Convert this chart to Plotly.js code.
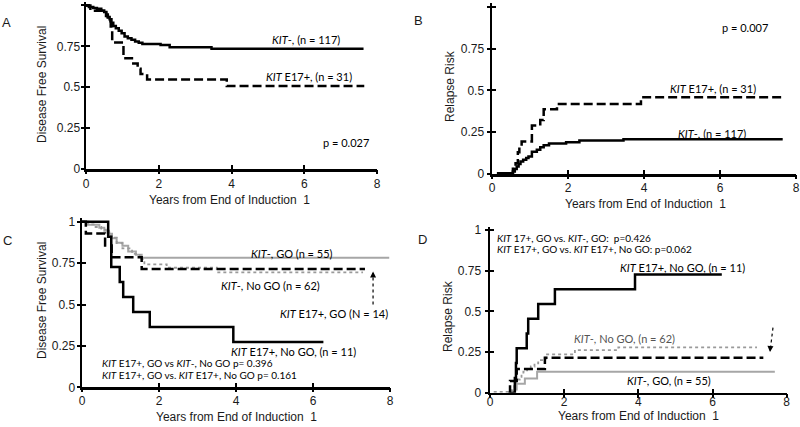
<!DOCTYPE html>
<html>
<head>
<meta charset="utf-8">
<script src="https://cdn.plot.ly/plotly-3.0.1.min.js"></script>
<style>html,body{margin:0;padding:0;background:#fff;}#chart{width:800px;height:427px;}</style>
</head>
<body>
<div id="chart"></div>
<script>
// ---------- Data ----------
const xTickVals = [0, 2, 4, 6, 8];
const xTickText = ['0', '2', '4', '6', '8'];
const yTickVals = [0, 0.25, 0.5, 0.75, 1];
const yTickText = ['0', '0.25', '0.5', '0.75', '1'];

// Panel A: disease free survival
const aNegT = [0, 0.08, 0.2, 0.3, 0.42, 0.5, 0.56, 0.6, 0.65, 0.7, 0.75, 0.82, 0.9, 0.98, 1.06, 1.15, 1.25, 1.35, 1.45, 1.55, 2.05, 2.3, 3.45, 7.63];
const aNegS = [1, 0.99, 0.985, 0.98, 0.97, 0.96, 0.945, 0.93, 0.915, 0.895, 0.875, 0.86, 0.845, 0.83, 0.81, 0.8, 0.79, 0.78, 0.772, 0.765, 0.758, 0.745, 0.735, 0.735];
const aPosT = [0, 0.12, 0.55, 0.6, 0.68, 0.72, 1.03, 1.3, 1.42, 1.5, 1.68, 3.87, 7.65];
const aPosS = [1, 0.968, 0.935, 0.903, 0.871, 0.774, 0.677, 0.645, 0.613, 0.581, 0.548, 0.508, 0.508];

// Panel B: relapse risk
const bNegT = [0.13, 0.55, 0.6, 0.65, 0.7, 0.75, 0.82, 0.9, 0.96, 1.05, 1.18, 1.27, 1.36, 1.5, 1.95, 2.3, 3.46, 7.65];
const bNegR = [0.005, 0.015, 0.03, 0.045, 0.06, 0.075, 0.085, 0.095, 0.105, 0.133, 0.145, 0.16, 0.172, 0.182, 0.19, 0.2, 0.207, 0.207];
const bPosT = [0.13, 0.55, 0.62, 0.68, 0.72, 0.78, 1.05, 1.27, 1.36, 1.71, 3.92, 7.65];
const bPosR = [0.005, 0.032, 0.065, 0.13, 0.16, 0.194, 0.29, 0.323, 0.387, 0.419, 0.458, 0.458];

// Panel C: disease free survival by GO
const cPosNoGoT = [0, 0.68, 0.76, 0.98, 1.07, 1.33, 1.76, 3.93, 6.27];
const cPosNoGoS = [1, 0.909, 0.727, 0.636, 0.545, 0.455, 0.364, 0.273, 0.273];
const cNegGoT = [0, 0.16, 0.45, 0.58, 0.7, 0.78, 0.9, 1.05, 1.2, 1.4, 1.55, 7.98];
const cNegGoS = [1, 0.982, 0.964, 0.945, 0.927, 0.9, 0.873, 0.855, 0.82, 0.8, 0.782, 0.782];
const cNegNoGoT = [0, 0.1, 0.3, 0.5, 0.62, 0.75, 0.9, 1.05, 1.3, 1.5, 1.62, 2.2, 3.5, 7.3];
const cNegNoGoS = [1, 0.984, 0.968, 0.952, 0.935, 0.903, 0.871, 0.839, 0.806, 0.774, 0.742, 0.722, 0.694, 0.694];
const cPosGoT = [0, 0.1, 0.6, 0.77, 1.55, 7.35];
const cPosGoS = [1, 0.929, 0.857, 0.786, 0.714, 0.714];

// Panel D: relapse risk by GO
const dPosNoGoT = [0.55, 0.67, 0.7, 0.72, 0.99, 1.03, 1.3, 1.75, 3.91, 6.25];
const dPosNoGoR = [0, 0.091, 0.182, 0.273, 0.364, 0.455, 0.545, 0.636, 0.727, 0.727];
const dPosGoT = [0.5, 0.54, 0.72, 1.48, 7.37];
const dPosGoR = [0, 0.072, 0.145, 0.215, 0.215];
const dNegGoT = [0.6, 0.65, 0.72, 0.94, 1.27, 7.68];
const dNegGoR = [0, 0.02, 0.055, 0.088, 0.128, 0.128];
const dNegNoGoT = [0.1, 0.55, 0.6, 0.65, 0.7, 0.75, 0.8, 0.85, 0.9, 1.0, 1.1, 1.2, 1.3, 1.5, 2.29, 3.46, 7.2];
const dNegNoGoR = [0.005, 0.016, 0.032, 0.048, 0.065, 0.081, 0.097, 0.113, 0.129, 0.145, 0.161, 0.18, 0.2, 0.236, 0.262, 0.279, 0.279];

// ---------- Styling ----------
const W = 800, H = 427;
const axFont = 'Arial, Liberation Sans, sans-serif';
const lblFont = 'Lato, Open Sans, sans-serif';
const grayC = '#a6a6a6';
const dotC = '#9a9a9a';

function px2x(a, b) { return [a / W, b / W]; }
function px2y(bottom, top) { return [1 - bottom / H, 1 - top / H]; }

function step(x, y, xa, ya, color, width, dash) {
  return { x: x, y: y, xaxis: xa, yaxis: ya, type: 'scatter', mode: 'lines',
    line: { shape: 'hv', color: color, width: width, dash: dash || 'solid' },
    hoverinfo: 'skip', showlegend: false };
}

const traces = [
  step(aNegT, aNegS, 'x', 'y', '#000', 2.5, 'solid'),
  step(aPosT, aPosS, 'x', 'y', '#000', 2.5, '9px,4px'),
  step(bNegT, bNegR, 'x2', 'y2', '#000', 2.5, 'solid'),
  step(bPosT, bPosR, 'x2', 'y2', '#000', 2.5, '9px,4px'),
  step(cNegGoT, cNegGoS, 'x3', 'y3', grayC, 2, 'solid'),
  step(cNegNoGoT, cNegNoGoS, 'x3', 'y3', dotC, 1.8, 'dot'),
  step(cPosGoT, cPosGoS, 'x3', 'y3', '#000', 2.5, '9px,4px'),
  step(cPosNoGoT, cPosNoGoS, 'x3', 'y3', '#000', 2.5, 'solid'),
  step(dNegGoT, dNegGoR, 'x4', 'y4', grayC, 2, 'solid'),
  step(dNegNoGoT, dNegNoGoR, 'x4', 'y4', dotC, 1.8, 'dot'),
  step(dPosGoT, dPosGoR, 'x4', 'y4', '#000', 2.5, '9px,4px'),
  step(dPosNoGoT, dPosNoGoR, 'x4', 'y4', '#000', 2.5, 'solid')
];
// empty traces hosting the overlay axes (outer half of each tick, and panel D's x tick labels)
for (let i = 5; i <= 8; i++) {
  traces.push({ x: [], y: [], xaxis: 'x' + i, yaxis: 'y' + i, type: 'scatter', mode: 'lines', showlegend: false, hoverinfo: 'skip' });
}
traces.push({ x: [], y: [], xaxis: 'x9', yaxis: 'y4', type: 'scatter', mode: 'lines', showlegend: false, hoverinfo: 'skip' });

const tickFont = { family: axFont, size: 12, color: '#1a1a1a' };
function xAx(dom, anchor, standoff, labels) {
  return { domain: dom, anchor: anchor, range: [0, 8], tickmode: 'array', tickvals: xTickVals, ticktext: xTickText,
    ticks: 'inside', ticklen: 4, tickwidth: 2, tickcolor: '#000', showline: true, linewidth: 2.5, linecolor: '#000',
    showgrid: false, zeroline: false, fixedrange: true, ticklabelstandoff: standoff, showticklabels: labels,
    tickfont: tickFont };
}
function yAx(dom, anchor, standoff) {
  return { domain: dom, anchor: anchor, range: [0, 1.02], tickmode: 'array', tickvals: yTickVals, ticktext: yTickText,
    ticks: 'inside', ticklen: 4, tickwidth: 2, tickcolor: '#000', showline: true, linewidth: 2.5, linecolor: '#000',
    showgrid: false, zeroline: false, fixedrange: true, ticklabelstandoff: standoff,
    tickfont: tickFont };
}
function xOv(over, anchor) {
  return { overlaying: over, anchor: anchor, range: [0, 8], tickmode: 'array', tickvals: xTickVals,
    ticks: 'outside', ticklen: 4, tickwidth: 2, tickcolor: '#000', showticklabels: false, showline: false,
    showgrid: false, zeroline: false, fixedrange: true };
}
function yOv(over, anchor) {
  return { overlaying: over, anchor: anchor, range: [0, 1.02], tickmode: 'array', tickvals: yTickVals,
    ticks: 'outside', ticklen: 4, tickwidth: 2, tickcolor: '#000', showticklabels: false, showline: false,
    showgrid: false, zeroline: false, fixedrange: true };
}

const domA = { x: px2x(86, 377), y: px2y(169, 2.2) };
const domB = { x: px2x(492, 796), y: px2y(174, 3.35) };
const domC = { x: px2x(82, 390), y: px2y(387.3, 218.4) };
const domD = { x: px2x(490, 786.7), y: px2y(392.7, 226.7) };

function lbl(text, x, y, xref, yref, size, color, anchor) {
  return { text: text, x: x, y: y, xref: xref, yref: yref, showarrow: false, xanchor: anchor || 'right', yanchor: 'middle',
    font: { family: lblFont, size: size, color: color || '#000' } };
}
function paperText(text, x, y, size, angle) {
  return { text: text, x: x / W, y: 1 - y / H, xref: 'paper', yref: 'paper', showarrow: false, xanchor: 'center', yanchor: 'middle',
    textangle: angle || 0, font: { family: axFont, size: size, color: '#1a1a1a' } };
}

const xTitle = 'Years from End of Induction &nbsp;1';
const annotations = [
  paperText('A', 6, 23, 13), paperText('B', 418, 20, 13), paperText('C', 7, 241, 13), paperText('D', 422, 240, 13),
  // axis titles
  paperText(xTitle, 229, 200, 12), paperText(xTitle, 645, 204, 12), paperText(xTitle, 236, 417, 12), paperText(xTitle, 638, 416, 12),
  paperText('Disease Free Survival', 42, 85, 12, -90), paperText('Relapse Risk', 450, 86, 12, -90),
  paperText('Disease Free Survival', 42, 301, 12, -90), paperText('Relapse Risk', 448, 316, 12, -90),
  // curve labels
  lbl('<i>KIT</i>-, (n = 117)', 7.05, 0.79, 'x', 'y', 11),
  lbl('<i>KIT</i> E17+, (n = 31)', 7.37, 0.563, 'x', 'y', 11),
  lbl('p = 0.027', 7.84, 0.16, 'x', 'y', 11),
  lbl('<i>KIT</i> E17+, (n = 31)', 7.0, 0.514, 'x2', 'y2', 11),
  lbl('<i>KIT</i>-, (n = 117)', 6.74, 0.245, 'x2', 'y2', 11),
  lbl('p = 0.007', 7.32, 0.873, 'x2', 'y2', 11),
  lbl('<i>KIT</i>-, GO (n = 55)', 6.57, 0.81, 'x3', 'y3', 11),
  lbl('<i>KIT</i>-, No GO (n = 62)', 6.23, 0.612, 'x3', 'y3', 11),
  lbl('<i>KIT</i> E17+, GO (N = 14)', 8.0, 0.443, 'x3', 'y3', 11),
  lbl('<i>KIT</i> E17+, No GO, (n = 11)', 7.17, 0.219, 'x3', 'y3', 11),
  lbl('<i>KIT</i> E17+, GO vs <i>KIT</i>-, No GO p= 0.396', 0.47, 0.147, 'x3', 'y3', 10, '#000', 'left'),
  lbl('<i>KIT</i> E17+, GO vs. <i>KIT</i> E17+, No GO p= 0.161', 0.47, 0.075, 'x3', 'y3', 10, '#000', 'left'),
  { x: 7.56, y: 0.7, xref: 'x3', yref: 'y3', ax: 0, ay: 7, showarrow: true, arrowhead: 2, arrowsize: 1, arrowwidth: 1.2, arrowcolor: '#000', text: '' },
  lbl('<i>KIT</i> E17+, No GO, (n = 11)', 6.93, 0.77, 'x4', 'y4', 11),
  lbl('<i>KIT</i> E17+, GO, (n = 14)', 8.01, 0.465, 'x4', 'y4', 11),
  lbl('<i>KIT</i>-, No GO, (n = 62)', 5.04, 0.336, 'x4', 'y4', 11, '#555'),
  lbl('<i>KIT</i>-, GO, (n = 55)', 6.01, 0.072, 'x4', 'y4', 11),
  lbl('<i>KIT</i> 17+, GO vs. <i>KIT</i>-, GO:  p=0.426', 0.13, 0.951, 'x4', 'y4', 10, '#000', 'left'),
  lbl('<i>KIT</i> E17+, GO vs. <i>KIT</i> E17+, No GO: p=0.062', 0.13, 0.885, 'x4', 'y4', 10, '#000', 'left'),
  { x: 7.55, y: 0.25, xref: 'x4', yref: 'y4', ax: 0.5, ay: -7, showarrow: true, arrowhead: 2, arrowsize: 1, arrowwidth: 1.2, arrowcolor: '#000', text: '' }
];

const shapes = [
  { type: 'line', xref: 'x3', yref: 'y3', x0: 7.56, x1: 7.56, y0: 0.5, y1: 0.68, line: { color: '#000', width: 1.2, dash: 'dot' } },
  { type: 'line', xref: 'x4', yref: 'y4', x0: 7.63, x1: 7.56, y0: 0.4, y1: 0.27, line: { color: '#000', width: 1.2, dash: 'dot' } }
];

const layout = {
  width: W, height: H, margin: { l: 0, r: 0, t: 0, b: 0 },
  paper_bgcolor: '#fff', plot_bgcolor: 'rgba(0,0,0,0)', showlegend: false,
  xaxis: xAx(domA.x, 'y', 2, true), yaxis: yAx(domA.y, 'x', 1),
  xaxis2: xAx(domB.x, 'y2', 1, true), yaxis2: yAx(domB.y, 'x2', 3),
  xaxis3: xAx(domC.x, 'y3', 1, true), yaxis3: yAx(domC.y, 'x3', 2),
  xaxis4: xAx(domD.x, 'y4', 0, false), yaxis4: yAx(domD.y, 'x4', 4),
  xaxis5: xOv('x', 'y5'), yaxis5: yOv('y', 'x5'),
  xaxis6: xOv('x2', 'y6'), yaxis6: yOv('y2', 'x6'),
  xaxis7: xOv('x3', 'y7'), yaxis7: yOv('y3', 'x7'),
  xaxis8: xOv('x4', 'y8'), yaxis8: yOv('y4', 'x8'),
  // panel D's x tick labels sit closer to the axis in the reference: a free overlay axis carries them
  xaxis9: { overlaying: 'x4', anchor: 'free', position: 1 - 393 / H, range: [0, 8], tickmode: 'array',
    tickvals: xTickVals, ticktext: xTickText, ticks: '', showline: false, showgrid: false, zeroline: false,
    fixedrange: true, tickfont: tickFont },
  annotations: annotations, shapes: shapes
};

Plotly.newPlot('chart', traces, layout, { displayModeBar: false, staticPlot: true });
</script>
</body>
</html>
